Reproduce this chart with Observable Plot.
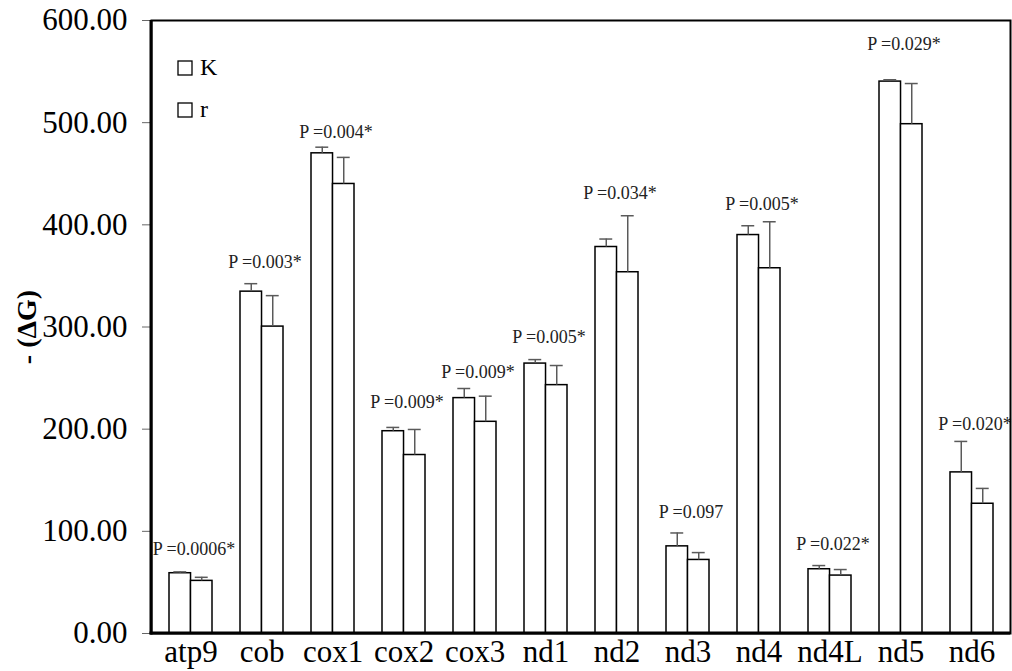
<!DOCTYPE html>
<html>
<head>
<meta charset="utf-8">
<script src="https://cdn.jsdelivr.net/npm/d3@7"></script>
<script src="https://cdn.jsdelivr.net/npm/@observablehq/plot@0.6"></script>
<style>
  html, body { margin: 0; padding: 0; background: #fff; }
  #chart { width: 1012px; height: 671px; }
</style>
</head>
<body>
<div id="chart"></div>
<script>
const genes = ["atp9","cob","cox1","cox2","cox3","nd1","nd2","nd3","nd4","nd4L","nd5","nd6"];
const seriesNames = ["K", "r"];
const kMean = [59, 334.6, 470, 198, 230.4, 264.2, 378.3, 85.3, 390, 62.9, 540.2, 157.7];
const kSd   = [1.3, 7.8, 6, 3.7, 9.4, 3.9, 7.8, 13.1, 9.1, 3.6, 1.8, 30.3];
const rMean = [51.5, 300.4, 440, 174.7, 207.2, 243.1, 353.6, 72, 357.5, 56.7, 498.5, 127];
const rSd   = [3.5, 30.3, 26, 25, 25.1, 19.2, 55.3, 7.2, 45.5, 5.9, 39.8, 15];
const pLabels = ["P =0.0006*", "P =0.003*", "P =0.004*", "P =0.009*", "P =0.009*", "P =0.005*", "P =0.034*", "P =0.097", "P =0.005*", "P =0.022*", "P =0.029*", "P =0.020*"];
const pLabelY = [82.1, 363, 491, 226, 255.4, 289.6, 431.4, 118.6, 420, 87, 576.4, 205];
const yTicks = [0, 100, 200, 300, 400, 500, 600];
const yLabel = "- (\u0394G)";

const data = genes.map((g, i) => ({
  gene: g, K: kMean[i], Ktop: kMean[i] + kSd[i], r: rMean[i], rtop: rMean[i] + rSd[i],
  p: pLabels[i], pY: pLabelY[i]
}));

const W = 1012, H = 671, mL = 151, mR = 2, mT = 20, mB = 38;
const paddingInner = 0.4, paddingOuter = 0.2;
const step = (W - mL - mR) / (genes.length - paddingInner + 2 * paddingOuter);
const bw = step * (1 - paddingInner);
const half = bw / 2;
const capInset = 4.3;
const font = "'Liberation Serif', 'Times New Roman', serif";
const errColor = "#5a5a5a";

const plot = Plot.plot({
  width: W, height: H,
  marginLeft: mL, marginRight: mR, marginTop: mT, marginBottom: mB,
  style: { fontFamily: font, background: "white", color: "black" },
  x: { domain: genes, paddingInner, paddingOuter, label: null },
  y: { domain: [0, 600], label: null },
  marks: [
    Plot.barY(data, { x: "gene", y: "K", insetLeft: 0, insetRight: half, fill: "white", stroke: "black", strokeWidth: 1.5 }),
    Plot.barY(data, { x: "gene", y: "r", insetLeft: half, insetRight: 0, fill: "white", stroke: "black", strokeWidth: 1.5 }),
    Plot.ruleX(data, { x: "gene", y1: "K", y2: "Ktop", dx: -half / 2, stroke: errColor, strokeWidth: 1.5 }),
    Plot.ruleX(data, { x: "gene", y1: "r", y2: "rtop", dx: half / 2, stroke: errColor, strokeWidth: 1.5 }),
    Plot.tickY(data, { x: "gene", y: "Ktop", insetLeft: capInset, insetRight: half + capInset, stroke: errColor, strokeWidth: 1.5 }),
    Plot.tickY(data, { x: "gene", y: "rtop", insetLeft: half + capInset, insetRight: capInset, stroke: errColor, strokeWidth: 1.5 }),
    Plot.text(data, { x: "gene", y: "pY", text: "p", fontSize: 18, fill: "#222", dx: 3 }),
    Plot.frame({ stroke: "black", strokeWidth: 2 }),
    Plot.axisY({ ticks: yTicks, tickFormat: d3.format(".2f"), tickSize: 9, tickPadding: 15, fontSize: 31, stroke: "#666", label: null }),
    Plot.axisX({ tickSize: 0, tickPadding: 6, fontSize: 31, label: null })
  ]
});

document.getElementById("chart").appendChild(plot);

const svg = d3.select(plot);
const y0 = H - mB;
// thick left and bottom axis lines
svg.append("line").attr("x1", mL).attr("x2", mL).attr("y1", mT).attr("y2", y0 + 1.5)
  .attr("stroke", "black").attr("stroke-width", 3);
svg.append("line").attr("x1", mL - 1.5).attr("x2", W - mR).attr("y1", y0).attr("y2", y0)
  .attr("stroke", "black").attr("stroke-width", 3);

// legend
const leg = svg.append("g");
seriesNames.forEach((s, i) => {
  const yy = 61 + i * 42;
  leg.append("rect").attr("x", 178).attr("y", yy).attr("width", 14).attr("height", 14)
    .attr("fill", "white").attr("stroke", "black").attr("stroke-width", 1.3);
  leg.append("text").attr("x", 200).attr("y", yy + 14)
    .style("font-family", font).style("font-size", "24px").style("text-anchor", "start")
    .attr("fill", "black").text(s);
});

// y axis title
svg.append("text")
  .attr("transform", `translate(26,327) rotate(-90)`)
  .style("text-anchor", "middle").attr("dominant-baseline", "central")
  .style("font-family", font).style("font-weight", "bold").style("font-size", "28px")
  .attr("fill", "black").text(yLabel);
</script>
</body>
</html>
